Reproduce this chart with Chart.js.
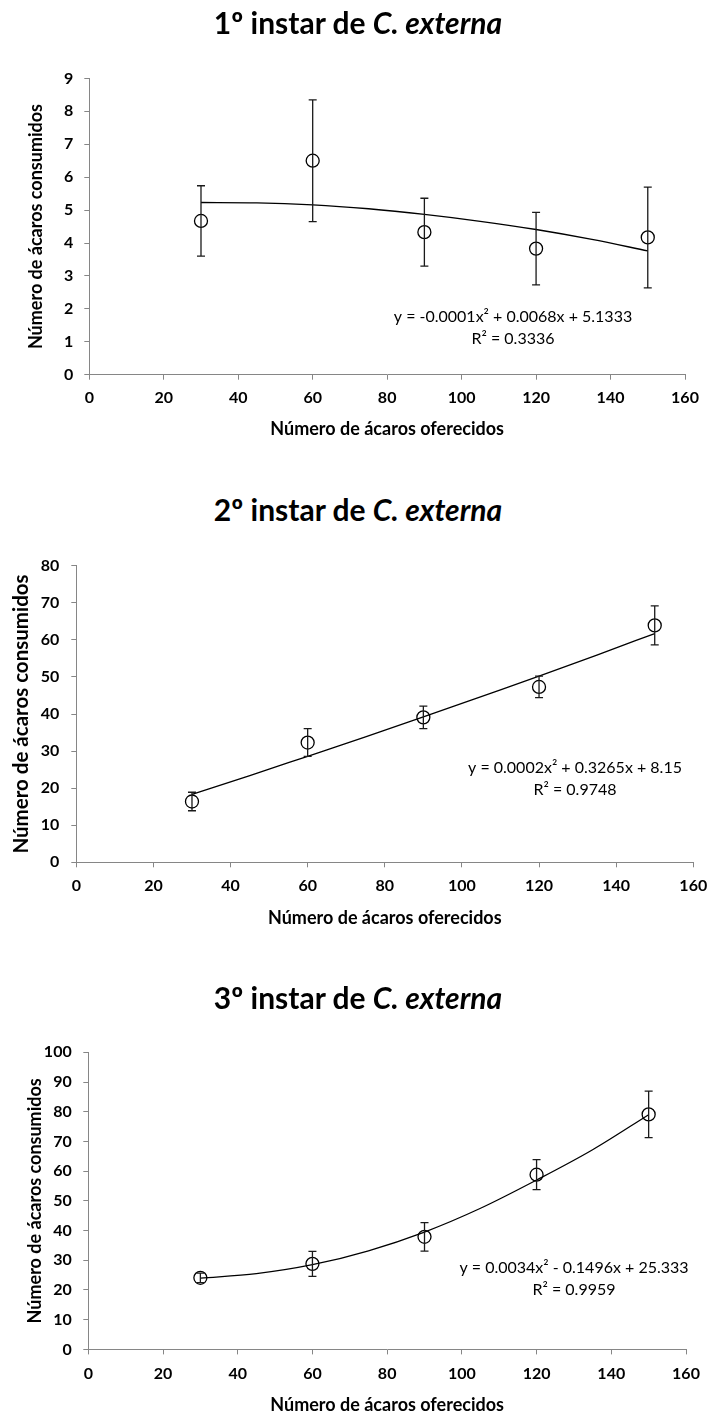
<!DOCTYPE html>
<html><head><meta charset="utf-8">
<script src="https://cdn.jsdelivr.net/npm/chart.js@4/dist/chart.umd.min.js"></script>
<style>
body{margin:0;background:#fff;width:716px;height:1414px;position:relative;overflow:hidden;font-family:Lato,sans-serif}
.title{position:absolute;left:0;width:716px;text-align:center;font-weight:bold;font-size:30px;font-family:Lato,sans-serif;color:#000;line-height:34px;z-index:2}
.box{position:absolute;left:0;width:716px}
</style></head><body>
<div class="box" style="top:0;height:450px"><canvas id="c1"></canvas></div>
<div class="box" style="top:530px;height:410px"><canvas id="c2"></canvas></div>
<div class="box" style="top:960px;height:454px"><canvas id="c3"></canvas></div>
<div class="title" style="top:5px">1º instar de <i>C. externa</i></div>
<div class="title" style="top:492px">2º instar de <i>C. externa</i></div>
<div class="title" style="top:980px">3º instar de <i>C. externa</i></div>
<script>
// ---- data ----
const xOffered = [30, 60, 90, 120, 150];
const xTicks = [0, 20, 40, 60, 80, 100, 120, 140, 160];
const trendX = [30, 45, 60, 75, 90, 105, 120, 135, 150];

const mean1 = [4.67, 6.50, 4.33, 3.83, 4.17];
const sd1 = [1.07, 1.85, 1.03, 1.10, 1.53];
const trend1 = [5.23, 5.22, 5.16, 5.04, 4.87, 4.66, 4.41, 4.11, 3.76];
const yTicks1 = [0, 1, 2, 3, 4, 5, 6, 7, 8, 9];
const eq1 = ["y = -0.0001x² + 0.0068x + 5.1333", "R² = 0.3336"];

const mean2 = [16.4, 32.3, 39.1, 47.3, 63.9];
const sd2 = [2.5, 3.75, 3.05, 2.9, 5.25];
const trend2 = [18.3, 23.4, 28.6, 33.8, 39.2, 44.7, 50.2, 55.9, 61.7];
const yTicks2 = [0, 10, 20, 30, 40, 50, 60, 70, 80];
const eq2 = ["y = 0.0002x² + 0.3265x + 8.15", "R² = 0.9748"];

const mean3 = [24.1, 28.8, 37.9, 58.8, 79.1];
const sd3 = [1.6, 4.2, 4.8, 5.05, 7.85];
const trend3 = [24.0, 25.5, 28.5, 33.2, 39.5, 47.5, 57.0, 67.2, 79.0];
const yTicks3 = [0, 10, 20, 30, 40, 50, 60, 70, 80, 90, 100];
const eq3 = ["y = 0.0034x² - 0.1496x + 25.333", "R² = 0.9959"];

const xTitle = "Número de ácaros oferecidos";
const yTitle = "Número de ácaros consumidos";

// ---- drawing ----
const FONT = "Lato, 'Open Sans', sans-serif";
const GRAY = '#868686';

function makeChart(id, means, sds, trend, yTicks, eq, L) {
  const errorBars = {
    id: 'errorBars' + id,
    afterDatasetsDraw(chart) {
      const {ctx, scales: {x, y}} = chart;
      ctx.save();
      ctx.strokeStyle = '#1a1a1a';
      ctx.lineWidth = 1.3;
      xOffered.forEach((xv, i) => {
        const px = x.getPixelForValue(xv);
        const t = y.getPixelForValue(means[i] + sds[i]);
        const b = y.getPixelForValue(means[i] - sds[i]);
        ctx.beginPath();
        ctx.moveTo(px, t); ctx.lineTo(px, b);
        ctx.moveTo(px - 4, t); ctx.lineTo(px + 4, t);
        ctx.moveTo(px - 4, b); ctx.lineTo(px + 4, b);
        ctx.stroke();
      });
      ctx.restore();
    }
  };
  const eqLabel = {
    id: 'eqLabel' + id,
    afterDraw(chart) {
      const ctx = chart.ctx;
      ctx.save();
      ctx.fillStyle = '#000';
      ctx.font = L.eqSize + 'px ' + FONT;
      ctx.textAlign = 'center';
      ctx.textBaseline = 'middle';
      ctx.fillText(eq[0], L.eqX, L.eqY);
      ctx.fillText(eq[1], L.eqX, L.eqY + 22);
      ctx.restore();
    }
  };
  return new Chart(document.getElementById(id), {
    type: 'scatter',
    data: {
      datasets: [
        {
          type: 'line',
          data: trendX.map((v, i) => ({x: v, y: trend[i]})),
          borderColor: '#000',
          borderWidth: 1.3,
          pointRadius: 0,
          fill: false,
          cubicInterpolationMode: 'monotone'
        },
        {
          data: xOffered.map((v, i) => ({x: v, y: means[i]})),
          pointStyle: 'circle',
          pointRadius: 6.5,
          pointBorderWidth: 1.3,
          pointBorderColor: '#000',
          pointBackgroundColor: 'rgba(0,0,0,0)',
          showLine: false
        }
      ]
    },
    options: {
      responsive: true,
      maintainAspectRatio: false,
      animation: false,
      events: [],
      layout: {padding: {left: 0, right: L.right, top: L.top, bottom: 0}},
      plugins: {legend: {display: false}, tooltip: {enabled: false}, title: {display: false}},
      scales: {
        x: {
          type: 'linear', min: 0, max: 160,
          afterBuildTicks: s => { s.ticks = xTicks.map(v => ({value: v})); },
          afterFit: s => { s.height = L.xH; },
          grid: {drawOnChartArea: false, drawTicks: true, tickLength: 5, color: GRAY},
          border: {display: true, color: GRAY, width: 1},
          ticks: {color: '#000', padding: L.xPad, maxRotation: 0, font: {family: FONT, size: 16, weight: 'bold'}},
          title: {display: true, text: xTitle, color: '#000', padding: {top: 0, bottom: L.xTitlePad},
                  font: {family: FONT, size: L.xTitleSize, weight: 'bold', lineHeight: 1}}
        },
        y: {
          type: 'linear', min: yTicks[0], max: yTicks[yTicks.length - 1],
          afterBuildTicks: s => { s.ticks = yTicks.map(v => ({value: v})); },
          afterFit: s => { s.width = L.yW; },
          grid: {drawOnChartArea: false, drawTicks: true, tickLength: 5, color: GRAY},
          border: {display: true, color: GRAY, width: 1},
          ticks: {color: '#000', padding: L.yPad, font: {family: FONT, size: 16, weight: 'bold'}},
          title: {display: true, text: yTitle, color: '#000', padding: {top: L.yTitlePad, bottom: 0},
                  font: {family: FONT, size: L.yTitleSize, weight: 'bold', lineHeight: 1}}
        }
      }
    },
    plugins: [errorBars, eqLabel]
  });
}

makeChart('c1', mean1, sd1, trend1, yTicks1, eq1,
  {right: 31, top: 78.4, xH: 75.3, yW: 89.3, xPad: 8.5, yPad: 11, xTitleSize: 18, xTitlePad: 12,
   yTitleSize: 18, yTitlePad: 27, eqSize: 16, eqX: 513, eqY: 317});
makeChart('c2', mean2, sd2, trend2, yTicks2, eq2,
  {right: 15.7, top: 35.7, xH: 77.7, yW: 76.3, xPad: 8.8, yPad: 12, xTitleSize: 18, xTitlePad: 13,
   yTitleSize: 20.5, yTitlePad: 11.5, eqSize: 16, eqX: 575, eqY: 238});
makeChart('c3', mean3, sd3, trend3, yTicks3, eq3,
  {right: 30, top: 92.3, xH: 64.6, yW: 88.3, xPad: 9.5, yPad: 11.6, xTitleSize: 18, xTitlePad: 0,
   yTitleSize: 18, yTitlePad: 26, eqSize: 16, eqX: 574, eqY: 307.7});
</script>
</body></html>
